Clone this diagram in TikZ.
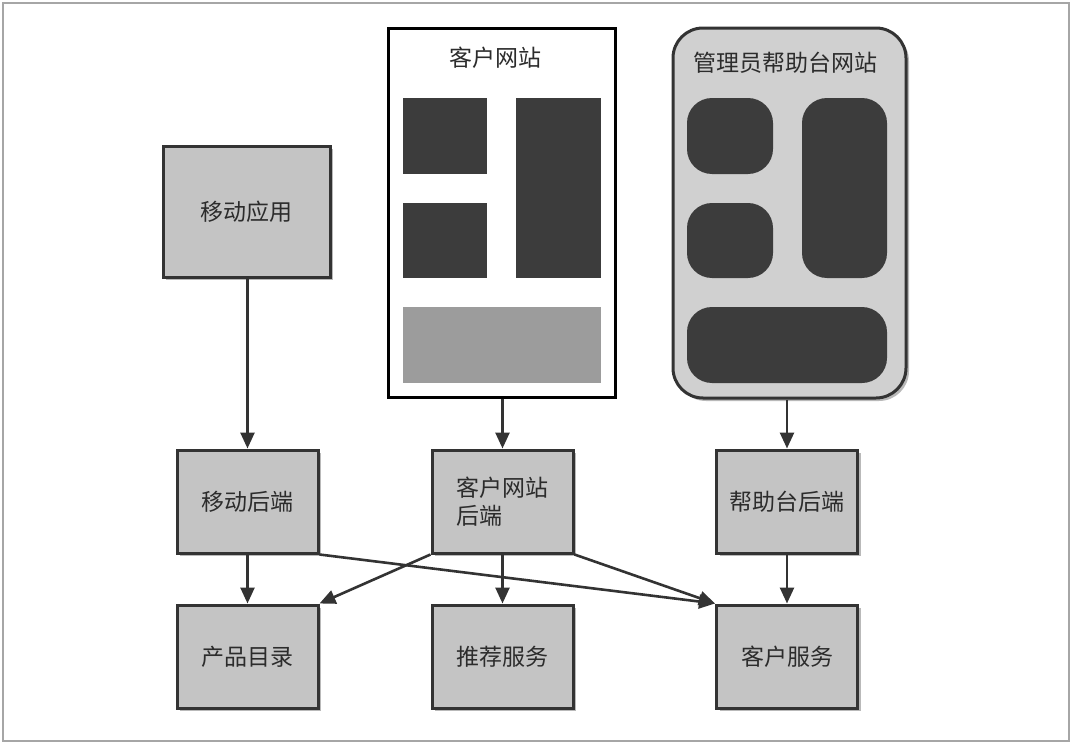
\documentclass[tikz,border=0pt]{standalone}
\usepackage{fontspec}
\setmainfont{Noto Sans CJK SC}
\usetikzlibrary{arrows.meta}
\usetikzlibrary{shadows}

\definecolor{boxgray}{HTML}{C4C4C4}
\definecolor{sitegray}{HTML}{D0D0D0}
\definecolor{paneldark}{HTML}{3C3C3C}
\definecolor{panellight}{HTML}{9C9C9C}
\definecolor{linedark}{HTML}{333333}
\definecolor{textdark}{HTML}{2C2C2C}

\tikzset{
    svcbox/.style={draw=linedark,line width=1.5pt,fill=boxgray,text=textdark,
        minimum width=70.5pt,minimum height=51.5pt,inner sep=0pt,align=left,
        drop shadow={shadow xshift=1.5pt,shadow yshift=-1.5pt,opacity=0.55}},
    flow/.style={draw=linedark,line width=1.3pt,-{Triangle[length=8pt,width=7pt]}},
}

\begin{document}
\begin{tikzpicture}[x=0.5pt,y=-0.5pt,font=\fontsize{11.5}{14}\selectfont]
                    \useasboundingbox (0,0) rectangle (1073,744);
                    \draw[gray!70,line width=0.8pt] (3,3) rectangle (1069,741);
                    % front ends
                    \node[svcbox,minimum width=83.5pt,minimum height=65.5pt] (app) at (246.5,211.5) {移动应用};
                    \node[draw=black,line width=1.5pt,fill=white,minimum width=113.5pt,minimum height=184.5pt,inner sep=0pt] (web) at (501.5,212.5) {};
                    \node[text=textdark] (webtitle) at (495,58) {客户网站};
                    \fill[paneldark] (403,98) rectangle (487,174);
                    \fill[paneldark] (516,98) rectangle (601,278);
                    \fill[paneldark] (403,203) rectangle (487,278);
                    \fill[panellight] (403,307) rectangle (601,383);
                    \node[draw=linedark,line width=1.5pt,fill=sitegray,rounded corners=15pt,minimum width=116.5pt,minimum height=185pt,inner sep=0pt,
                        drop shadow={shadow xshift=1.5pt,shadow yshift=-1.5pt,opacity=0.55}] (admin) at (789.5,213) {};
                    \node[text=textdark] (admintitle) at (785,63) {管理员帮助台网站};
                    \fill[paneldark,rounded corners=12.5pt] (687,98) rectangle (773,174);
                    \fill[paneldark,rounded corners=12.5pt] (802,98) rectangle (887,278);
                    \fill[paneldark,rounded corners=12.5pt] (687,203) rectangle (773,278);
                    \fill[paneldark,rounded corners=12.5pt] (687,307) rectangle (887,383);
                    % back ends
                    \node[svcbox] (mbe) at (247.5,501.5) {移动后端};
                    \node[svcbox] (wbe) at (502.5,501.5) {客户网站\\后端};
                    \node[svcbox] (hbe) at (787,501.5) {帮助台后端};
                    % services
                    \node[svcbox] (catalog) at (247.5,656.5) {产品目录};
                    \node[svcbox] (recommend) at (502.5,656.5) {推荐服务};
                    \node[svcbox] (customer) at (787,656.5) {客户服务};
                    % calls
                    \draw[flow] (app.south -| mbe) -- (mbe.north);
                    \draw[flow] (web.south -| wbe) -- (wbe.north);
                    \draw[flow] (admin.south -| hbe) -- (hbe.north);
                    \draw[flow] (mbe.south) -- (catalog.north);
                    \draw[flow] (mbe.south east) -- (customer.north west);
                    \draw[flow] (wbe.south west) -- (catalog.north east);
                    \draw[flow] (wbe.south) -- (recommend.north);
                    \draw[flow] (wbe.south east) -- (customer.north west);
                    \draw[flow] (hbe.south) -- (customer.north);
                \end{tikzpicture}
\end{document}
